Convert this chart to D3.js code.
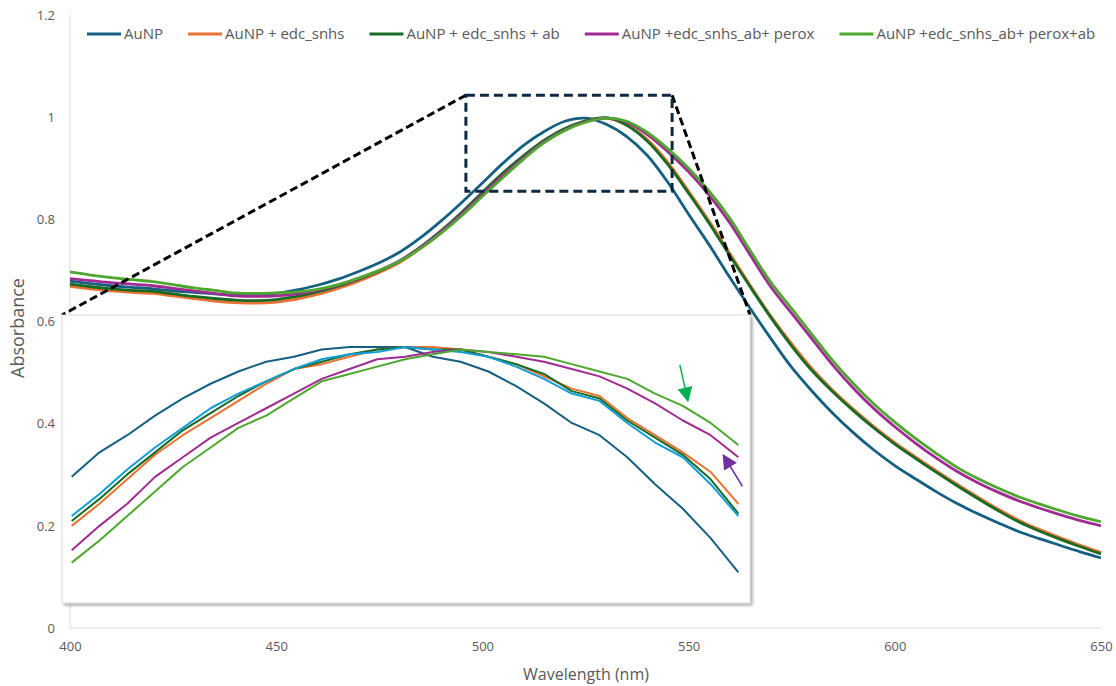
<!DOCTYPE html>
<html>
<head>
<meta charset="utf-8">
<script src="https://cdn.jsdelivr.net/npm/d3@7"></script>
<style>
  body { margin: 0; background: #ffffff; }
  svg text { font-family: "Open Sans", "Liberation Sans", sans-serif; }
</style>
</head>
<body>
<svg id="chart" width="1116" height="686"></svg>
<script>
// UV-Vis spectra, wavelength in nm (5 nm steps)
const wavelengths = [400,405,410,415,420,425,430,435,440,445,450,455,460,465,470,475,480,485,490,495,
  500,505,510,515,520,525,530,535,540,545,550,555,560,565,570,575,580,585,590,595,
  600,605,610,615,620,625,630,635,640,645,650];

const auNP = [0.679,0.674,0.670,0.667,0.664,0.660,0.657,0.654,0.652,0.652,0.655,0.662,0.671,0.683,0.698,0.715,0.736,0.764,0.797,0.833,
  0.871,0.910,0.945,0.972,0.992,0.998,0.986,0.962,0.925,0.872,0.810,0.750,0.686,0.625,0.566,0.510,0.463,0.420,0.382,0.348,
  0.318,0.292,0.267,0.244,0.224,0.206,0.189,0.175,0.162,0.149,0.137];

const edcSnhs = [0.669,0.664,0.660,0.657,0.655,0.650,0.645,0.640,0.637,0.636,0.638,0.644,0.653,0.665,0.679,0.696,0.716,0.743,0.775,0.811,
  0.850,0.888,0.922,0.953,0.976,0.992,0.998,0.985,0.956,0.911,0.855,0.796,0.733,0.670,0.610,0.556,0.507,0.465,0.428,0.394,
  0.363,0.335,0.308,0.282,0.257,0.233,0.211,0.193,0.177,0.162,0.148];

const edcSnhsAb = [0.673,0.668,0.664,0.661,0.659,0.654,0.649,0.645,0.642,0.641,0.643,0.649,0.658,0.669,0.683,0.699,0.719,0.746,0.778,0.814,
  0.853,0.891,0.925,0.955,0.978,0.993,0.999,0.984,0.953,0.907,0.851,0.792,0.729,0.667,0.607,0.552,0.503,0.462,0.425,0.391,
  0.360,0.332,0.305,0.279,0.254,0.230,0.208,0.190,0.174,0.159,0.145];

const perox = [0.684,0.680,0.676,0.673,0.670,0.665,0.660,0.655,0.650,0.649,0.650,0.654,0.661,0.671,0.684,0.700,0.719,0.745,0.776,0.811,
  0.849,0.886,0.921,0.952,0.975,0.991,0.998,0.990,0.966,0.932,0.893,0.847,0.793,0.729,0.667,0.616,0.565,0.514,0.469,0.429,
  0.394,0.362,0.333,0.307,0.285,0.266,0.249,0.235,0.222,0.210,0.200];

const peroxAb = [0.697,0.691,0.686,0.682,0.678,0.672,0.666,0.661,0.656,0.655,0.656,0.658,0.663,0.672,0.685,0.700,0.718,0.743,0.773,0.807,
  0.845,0.882,0.918,0.950,0.974,0.990,0.998,0.992,0.970,0.938,0.900,0.855,0.802,0.738,0.676,0.625,0.574,0.523,0.478,0.438,
  0.403,0.371,0.342,0.315,0.293,0.274,0.257,0.243,0.230,0.218,0.208];

const seriesNames = ["AuNP", "AuNP + edc_snhs", "AuNP + edc_snhs + ab", "AuNP +edc_snhs_ab+ perox", "AuNP +edc_snhs_ab+ perox+ab"];
const seriesColors = ["#156082", "#E97132", "#196B24", "#A02B93", "#4EA72E"];
const seriesValues = [auNP, edcSnhs, edcSnhsAb, perox, peroxAb];

const xTicks = [400, 450, 500, 550, 600, 650];
const yTicks = [0, 0.2, 0.4, 0.6, 0.8, 1, 1.2];

// Peak window that is magnified in the inset
const zoomWave = [496, 546];
const zoomAbs = [0.855, 1.043];

// Magnified peak region (2 nm steps)
const insetWave = [498,500,502,504,506,508,510,512,514,516,518,520,522,524,526,528,530,532,534,536,538,540,542,544,546];
const insetAuNP = [0.947,0.957,0.964,0.972,0.979,0.985,0.990,0.994,0.996,0.999,1.000,1.000,1.000,0.996,0.994,0.990,0.984,0.977,0.969,0.964,0.955,0.944,0.934,0.922,0.908];
const insetEdcSnhs = [0.927,0.936,0.946,0.956,0.964,0.971,0.978,0.985,0.991,0.993,0.996,0.999,1.000,1.000,0.999,0.996,0.993,0.988,0.983,0.980,0.971,0.964,0.957,0.949,0.936];
const insetEdcSnhsAb = [0.929,0.938,0.948,0.957,0.966,0.973,0.980,0.986,0.991,0.994,0.997,0.999,1.000,0.999,0.999,0.996,0.993,0.989,0.982,0.979,0.970,0.963,0.956,0.946,0.932];
const insetEdcSnhsAbRepeat = [0.931,0.940,0.950,0.959,0.967,0.975,0.981,0.986,0.991,0.995,0.997,0.998,1.000,0.999,0.998,0.996,0.992,0.987,0.981,0.978,0.969,0.961,0.955,0.944,0.931];
const insetPerox = [0.917,0.927,0.936,0.947,0.955,0.963,0.969,0.975,0.981,0.987,0.991,0.995,0.996,0.998,0.999,0.998,0.996,0.994,0.991,0.988,0.983,0.977,0.970,0.964,0.955];
const insetPeroxAb = [0.912,0.921,0.931,0.941,0.951,0.959,0.967,0.972,0.979,0.986,0.989,0.992,0.995,0.997,0.999,0.998,0.997,0.996,0.993,0.990,0.987,0.981,0.976,0.969,0.960];

const insetValues = [insetAuNP, insetEdcSnhs, insetEdcSnhsAb, insetEdcSnhsAbRepeat, insetPerox, insetPeroxAb];
const insetColors = ["#156082", "#E97132", "#196B24", "#0F9ED5", "#A02B93", "#4EA72E"];

// ---- layout ----
const svg = d3.select("#chart");
const plot = { left: 70, right: 1101, top: 15, bottom: 628 };
const inset = { left: 62, top: 315, right: 750, bottom: 603 };

const x = d3.scaleLinear().domain([400, 650]).range([plot.left, plot.right]);
const y = d3.scaleLinear().domain([0, 1.2]).range([plot.bottom, plot.top]);

const defs = svg.append("defs");
const shadow = defs.append("filter").attr("id", "insetShadow")
  .attr("x", "-5%").attr("y", "-5%").attr("width", "115%").attr("height", "115%");
shadow.append("feDropShadow").attr("dx", 2).attr("dy", 2).attr("stdDeviation", 1.8)
  .attr("flood-color", "#000").attr("flood-opacity", 0.35);

function arrowMarker(id, color) {
  defs.append("marker").attr("id", id)
    .attr("viewBox", "0 0 10 10").attr("refX", 9).attr("refY", 5)
    .attr("markerWidth", 10).attr("markerHeight", 10).attr("markerUnits", "strokeWidth")
    .attr("orient", "auto")
    .append("path").attr("d", "M0,0 L10,5 L0,10 Z").attr("fill", color);
}
arrowMarker("arrowGreen", "#00B050");
arrowMarker("arrowPurple", "#7030A0");

// axis lines
svg.append("line").attr("x1", plot.left).attr("x2", plot.left)
  .attr("y1", y(1.2)).attr("y2", y(0)).attr("stroke", "#d9d9d9").attr("stroke-width", 1);
svg.append("line").attr("x1", plot.left).attr("x2", plot.right)
  .attr("y1", y(0)).attr("y2", y(0)).attr("stroke", "#d9d9d9").attr("stroke-width", 1);

// axes
const yAxis = svg.append("g").attr("transform", `translate(${plot.left},0)`)
  .call(d3.axisLeft(y).tickValues(yTicks).tickSize(0).tickPadding(15)
    .tickFormat(d => d === 0 ? "0" : String(+d.toFixed(1))));
const xAxis = svg.append("g").attr("transform", `translate(0,${plot.bottom})`)
  .call(d3.axisBottom(x).tickValues(xTicks).tickSize(0).tickPadding(14));
[xAxis, yAxis].forEach(g => {
  g.select(".domain").remove();
  g.selectAll("text").attr("fill", "#595959").style("font-size", "13px");
});

// axis titles
svg.append("text").attr("x", 586).attr("y", 680).attr("text-anchor", "middle")
  .attr("fill", "#595959").style("font-size", "16px").text("Wavelength (nm)");
svg.append("text").attr("transform", "translate(24,328) rotate(-90)").attr("text-anchor", "middle")
  .attr("fill", "#595959").style("font-size", "18px").text("Absorbance");

// spectra
const line = d3.line().x((d, i) => x(wavelengths[i])).y(d => y(d)).curve(d3.curveCatmullRom.alpha(0.5));
seriesValues.forEach((vals, i) => {
  svg.append("path").datum(vals).attr("d", line)
    .attr("fill", "none").attr("stroke", seriesColors[i]).attr("stroke-width", 2.8)
    .attr("stroke-linejoin", "round");
});

// legend
let lx = 87;
const ly = 34;
seriesNames.forEach((name, i) => {
  svg.append("line").attr("x1", lx).attr("x2", lx + 34).attr("y1", ly).attr("y2", ly)
    .attr("stroke", seriesColors[i]).attr("stroke-width", 3);
  const t = svg.append("text").attr("x", lx + 37).attr("y", ly + 5)
    .attr("fill", "#595959").style("font-size", "15px").text(name);
  lx += 37 + t.node().getComputedTextLength() + 25;
});

// zoom window and connectors
const zx0 = x(zoomWave[0]), zx1 = x(zoomWave[1]);
const zy0 = y(zoomAbs[1]), zy1 = y(zoomAbs[0]);
svg.append("line").attr("x1", zx0).attr("y1", zy0).attr("x2", inset.left).attr("y2", inset.top)
  .attr("stroke", "#000").attr("stroke-width", 3).attr("stroke-dasharray", "8,4");
svg.append("line").attr("x1", zx1).attr("y1", zy0).attr("x2", inset.right).attr("y2", inset.top)
  .attr("stroke", "#000").attr("stroke-width", 3).attr("stroke-dasharray", "8,4");
svg.append("rect").attr("x", zx0).attr("y", zy0).attr("width", zx1 - zx0).attr("height", zy1 - zy0)
  .attr("fill", "none").attr("stroke", "#0E2841").attr("stroke-width", 3).attr("stroke-dasharray", "9,5");

// inset panel
svg.append("rect").attr("x", inset.left).attr("y", inset.top)
  .attr("width", inset.right - inset.left).attr("height", inset.bottom - inset.top)
  .attr("fill", "#fff").attr("stroke", "#d9d9d9").attr("stroke-width", 1)
  .attr("filter", "url(#insetShadow)");

const xi = d3.scaleLinear().domain([498, 546]).range([inset.left + 9.7, inset.right - 11.6]);
const yi = d3.scaleLinear().domain([0.9, 1.0]).range([inset.bottom - 11, inset.top + 32]);
const insetLine = d3.line().x((d, i) => xi(insetWave[i])).y(d => yi(d));
insetValues.forEach((vals, i) => {
  svg.append("path").datum(vals).attr("d", insetLine)
    .attr("fill", "none").attr("stroke", insetColors[i]).attr("stroke-width", 2)
    .attr("stroke-linejoin", "round");
});

// arrows marking the two peroxidase traces
const gIdx = 22, pIdx = 24;
const gx = xi(insetWave[gIdx]) + 5, gy = yi(insetPeroxAb[gIdx]) - 5;
svg.append("line").attr("x1", gx - 8).attr("y1", gy - 36).attr("x2", gx).attr("y2", gy)
  .attr("stroke", "#00B050").attr("stroke-width", 1.5).attr("marker-end", "url(#arrowGreen)");
const px = xi(insetWave[pIdx]) - 15, py = yi(insetPerox[pIdx]) - 2;
svg.append("line").attr("x1", px + 19).attr("y1", py + 31).attr("x2", px).attr("y2", py)
  .attr("stroke", "#7030A0").attr("stroke-width", 1.5).attr("marker-end", "url(#arrowPurple)");
</script>
</body>
</html>
